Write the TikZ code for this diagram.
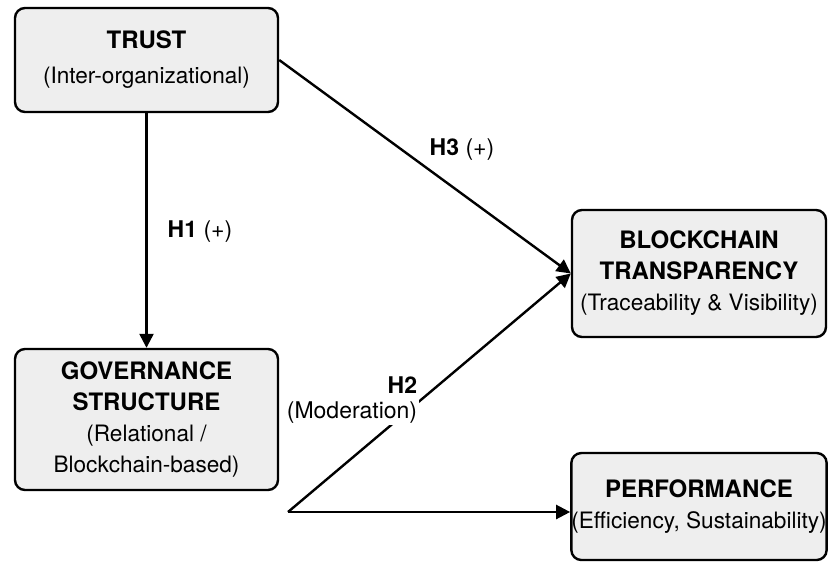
\documentclass[tikz,border=0pt]{standalone}
\usepackage{fontspec}
\setmainfont{TeX Gyre Heros}
\usetikzlibrary{arrows.meta,positioning}
\definecolor{boxgray}{HTML}{EEEEEE}

\newcommand{\ctitle}[1]{{\fontsize{12}{15}\selectfont\bfseries #1}}

\tikzset{
  construct/.style={draw=black, line width=1.2pt, fill=boxgray, rounded corners=5pt,
    align=center, inner sep=0pt, font=\fontsize{11.3}{15.5}\selectfont},
  link/.style={line width=1.2pt, -{Triangle[length=7pt,width=7pt]}},
  hyp/.style={font=\fontsize{11.5}{12.5}\selectfont, inner sep=1pt}
}

\begin{document}
\begin{tikzpicture}[x=0.5pt, y=-0.5pt]
  \useasboundingbox[fill=white] (0,0) rectangle (828,562);

  % constructs
  \node[construct, minimum width=131.5pt, minimum height=52pt] (trust) at (146.5,60)
    {\ctitle{TRUST}\\[2pt](Inter-organizational)};
  \node[construct, minimum width=131.5pt, minimum height=70.5pt] (gov) at (146.5,419.5)
    {\ctitle{GOVERNANCE}\\\ctitle{STRUCTURE}\\(Relational /\\Blockchain-based)};
  \node[construct, minimum width=127pt, minimum height=63.5pt] (bt) at (699,273.5)
    {\ctitle{BLOCKCHAIN}\\\ctitle{TRANSPARENCY}\\(Traceability \& Visibility)};
  \node[construct, minimum width=127pt, minimum height=53.5pt] (perf) at (699,506.5)
    {\ctitle{PERFORMANCE}\\(Efficiency, Sustainability)};

  % hypotheses
  \coordinate (split) at (288,512);
  \draw[link] (trust) -- (gov);
  \draw[link] (trust.east) -- (bt.west);
  \draw[link] (split) -- (bt.west);
  \draw[link] (split) -- (split -| perf.west);

  \node[hyp] (h1) at (200,232) {\textbf{H1} (+)};
  \node[hyp] (h3) at (462,150) {\textbf{H3} (+)};
  \node[hyp, fill=white, align=right] (h2) at (352,400) {\textbf{H2}\\(Moderation)};
\end{tikzpicture}
\end{document}
